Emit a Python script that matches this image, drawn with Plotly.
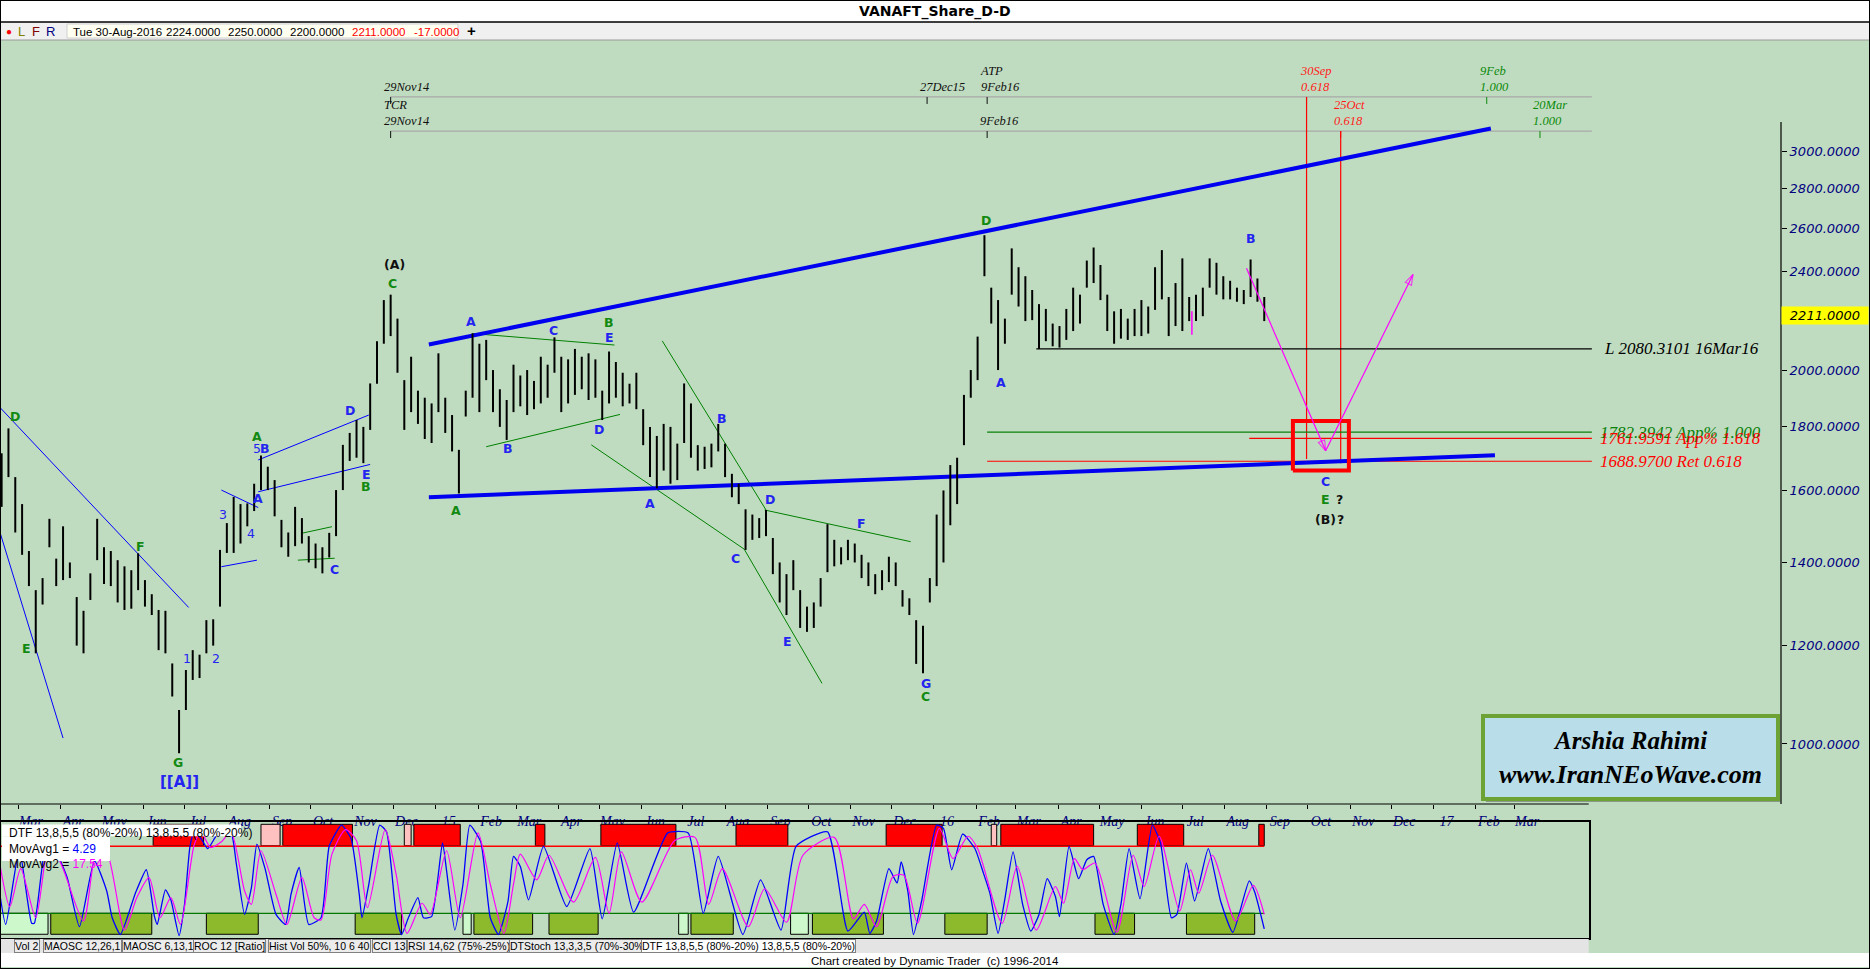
import math

import pandas as pd
import plotly.graph_objects as go

# ------------------------------------------------------------------ data
# VANAFT daily chart, read off as 5-day bars from 17 Feb 2014 to 30 Aug 2016
BAR_START = "2014-02-17"
bar_high = [
    1714, 1795, 1640, 1560, 1430, 1330, 1360, 1518, 1410, 1497,
    1400, 1313, 1280, 1372, 1518, 1440, 1430, 1406, 1390, 1380,
    1424, 1355, 1320, 1282, 1280, 1161, 1065, 1147, 1190, 1180,
    1258, 1260, 1433, 1506, 1581, 1560, 1562, 1620, 1707, 1672,
    1631, 1515, 1480, 1552, 1520, 1470, 1450, 1440, 1479, 1601,
    1741, 1780, 1823, 1800, 1951, 2110, 2277, 2300, 2200, 1963,
    2050, 1925, 1900, 1880, 2063, 1900, 1840, 1725, 1925, 2141,
    2100, 2115, 2000, 1930, 1892, 2020, 1980, 2000, 1960, 2050,
    2020, 2125, 2050, 2040, 2080, 2050, 2063, 2040, 1925, 2070,
    2030, 1990, 1950, 1990, 1860, 1800, 1770, 1810, 1800, 1745,
    1951, 1880, 1740, 1735, 1745, 1810, 1745, 1650, 1620, 1545,
    1530, 1520, 1543, 1465, 1400, 1370, 1406, 1330, 1290, 1300,
    1360, 1503, 1460, 1440, 1460, 1450, 1420, 1400, 1370, 1380,
    1415, 1400, 1330, 1310, 1258, 1245, 1360, 1530, 1600, 1677,
    1700, 1910, 2000, 2128, 2568, 2330, 2277, 2200, 2506, 2420,
    2380, 2320, 2260, 2240, 2180, 2170, 2240, 2330, 2300, 2450,
    2510, 2430, 2300, 2230, 2240, 2200, 2240, 2277, 2250, 2420,
    2498, 2290, 2350, 2460, 2290, 2300, 2330, 2460, 2440, 2380,
    2360, 2330, 2320, 2455, 2370, 2290,
]
bar_low = [
    1552, 1640, 1480, 1420, 1340, 1183, 1295, 1440, 1340, 1355,
    1360, 1200, 1183, 1306, 1406, 1345, 1340, 1300, 1282, 1285,
    1330, 1290, 1270, 1190, 1183, 1092, 983, 1065, 1126, 1130,
    1183, 1200, 1290, 1425, 1425, 1450, 1497, 1540, 1601, 1601,
    1525, 1440, 1415, 1443, 1450, 1400, 1385, 1372, 1413, 1470,
    1601, 1690, 1700, 1683, 1790, 1950, 2100, 2130, 1990, 1790,
    1850, 1810, 1760, 1747, 1850, 1780, 1720, 1591, 1835, 1900,
    1850, 1963, 1850, 1800, 1757, 1850, 1870, 1840, 1860, 1880,
    1900, 1990, 1850, 1880, 1910, 1930, 1892, 1900, 1823, 1880,
    1900, 1870, 1880, 1860, 1740, 1640, 1606, 1660, 1620, 1631,
    1747, 1700, 1660, 1665, 1670, 1720, 1640, 1580, 1560, 1433,
    1460, 1465, 1470, 1370, 1300, 1270, 1330, 1240, 1231, 1240,
    1290, 1375, 1390, 1395, 1406, 1400, 1360, 1340, 1320, 1330,
    1350, 1340, 1290, 1270, 1160, 1140, 1300, 1340, 1400, 1500,
    1560, 1740, 1900, 1963, 2380, 2180, 2000, 2100, 2300, 2250,
    2190, 2194, 2080, 2110, 2090, 2085, 2115, 2150, 2180, 2330,
    2350, 2277, 2150, 2100, 2120, 2115, 2130, 2130, 2140, 2236,
    2280, 2130, 2170, 2150, 2190, 2190, 2210, 2330, 2300, 2280,
    2280, 2270, 2260, 2290, 2270, 2190,
]
last_bar = ["Tue 30-Aug-2016", "2224.0000", "2250.0000", "2200.0000", "2211.0000", "-17.0000"]
LAST_CLOSE = 2211.0

PRICE_TICKS = [1000, 1200, 1400, 1600, 1800, 2000, 2400, 2600, 2800, 3000]

# trend lines: (dates, prices)
channel_lines = [
    (["2014-12-27", "2017-02-12"], [2097, 3130]),
    (["2014-12-27", "2017-02-15"], [1580, 1708]),
]
blue_lines = [
    (["2014-02-13", "2014-07-04"], [1880, 1288]),
    (["2014-02-13", "2014-04-03"], [1515, 1011]),
    (["2014-07-28", "2014-08-24"], [1601, 1550]),
    (["2014-07-28", "2014-08-23"], [1389, 1406]),
    (["2014-08-24", "2014-11-13"], [1693, 1840]),
    (["2014-08-24", "2014-11-14"], [1596, 1679]),
]
green_lines = [
    (["2014-09-25", "2014-10-17"], [1478, 1496]),
    (["2014-09-22", "2014-10-19"], [1406, 1411]),
    (["2015-01-28", "2015-05-12"], [2140, 2095]),
    (["2015-02-07", "2015-05-16"], [1735, 1842]),
    (["2015-06-16", "2015-08-31"], [2111, 1543]),
    (["2015-04-25", "2015-08-15", "2015-10-11"], [1741, 1435, 1119]),
    (["2015-08-30", "2015-12-15"], [1543, 1455]),
]

# price projections
PROJ_END = "2017-04-27"
fib_level = [1782.3942, 1761.9591, 1688.9700]
fib_from = ["2016-02-09", "2016-08-19", "2016-02-09"]
fib_text = ["1782.3942 App% 1.000", "1761.9591 App% 1.618", "1688.9700 Ret 0.618"]
support_level = 2080.3101
support_from = "2016-03-16"
support_text = "L 2080.3101 16Mar16"

target_dates = ["2016-09-20", "2016-10-31"]
target_prices = [1660, 1820]

path_dates = ["2016-08-17", "2016-10-14", "2016-12-17"]
path_prices = [2415, 1722, 2388]
marker_bar = (["2016-07-08", "2016-07-08"], [2135, 2230])

# time projections: two ruler rows (price level of each row)
time_rows = [3318, 3115]
TIME_FROM = "2014-11-29"
time_marks = [
    (0, "2014-11-29", "29Nov14", "k"),
    (0, "2015-12-27", "27Dec15", "k"),
    (0, "2016-02-09", "ATP<br>9Feb16", "k"),
    (0, "2016-09-30", "30Sep<br>0.618", "r"),
    (0, "2017-02-09", "9Feb<br>1.000", "g"),
    (1, "2014-11-29", "TCR<br>29Nov14", "k"),
    (1, "2016-02-09", "9Feb16", "k"),
    (1, "2016-10-25", "25Oct<br>0.618", "r"),
    (1, "2017-03-20", "20Mar<br>1.000", "g"),
]
time_drops = [("2016-09-30", 3318, 1696), ("2016-10-25", 3115, 1683)]

# Elliott wave labels: (text, date, price, colour key)
waves = [
    ("D", "2014-02-27", 1834, "g"), ("E", "2014-03-07", 1194, "g"),
    ("F", "2014-05-30", 1441, "g"), ("G", "2014-06-26", 967, "g"),
    ("1", "2014-07-03", 1171, "n"), ("2", "2014-07-24", 1172, "n"),
    ("3", "2014-07-29", 1529, "n"), ("4", "2014-08-19", 1476, "n"),
    ("5", "2014-08-23", 1728, "n"), ("B", "2014-08-29", 1730, "b"),
    ("A", "2014-08-23", 1768, "g"), ("A", "2014-08-24", 1575, "b"),
    ("C", "2014-10-19", 1383, "b"), ("D", "2014-10-30", 1857, "b"),
    ("E", "2014-11-11", 1649, "b"), ("B", "2014-11-11", 1613, "g"),
    ("(A)", "2014-12-02", 2430, "k"), ("C", "2014-11-30", 2349, "g"),
    ("A", "2015-01-27", 2187, "b"), ("A", "2015-01-16", 1541, "g"),
    ("B", "2015-02-23", 1730, "b"), ("C", "2015-03-28", 2154, "b"),
    ("D", "2015-05-01", 1790, "b"), ("B", "2015-05-08", 2184, "g"),
    ("E", "2015-05-08", 2125, "b"), ("A", "2015-06-07", 1562, "b"),
    ("B", "2015-07-30", 1829, "b"), ("C", "2015-08-09", 1411, "b"),
    ("D", "2015-09-03", 1572, "b"), ("E", "2015-09-16", 1209, "b"),
    ("F", "2015-11-09", 1505, "b"), ("G", "2015-12-26", 1118, "b"),
    ("C", "2015-12-26", 1092, "g"), ("D", "2016-02-08", 2641, "g"),
    ("A", "2016-02-19", 1955, "b"), ("B", "2016-08-20", 2553, "b"),
    ("C", "2016-10-14", 1626, "b"), ("E", "2016-10-14", 1572, "g"),
    ("?", "2016-10-24", 1572, "k"), ("(B)", "2016-10-14", 1515, "k"),
    ("?", "2016-10-25", 1515, "k"), ("[[A]]", "2014-06-27", 932, "B"),
]

# DTF oscillator (days after 1 Mar 2014, value 0-100)
OSC_BASE = "2014-03-01"
dtf_day = [
    -15, -9, 1, 10, 12, 21, 26, 36, 45, 56, 65, 69, 75, 86, 94, 100, 102, 108, 112, 118,
    122, 126, 129, 134, 139, 144, 149, 156, 160, 166, 171, 175, 181, 189, 196, 200, 206, 213, 222, 228,
    237, 244, 250, 252, 257, 265, 270, 277, 281, 286, 293, 297, 303, 311, 314, 320, 326, 331, 339, 346,
    352, 359, 363, 368, 374, 385, 402, 419, 428, 439, 451, 476, 491, 502, 513, 531, 544, 559, 570, 593,
    608, 620, 624, 629, 638, 644, 647, 652, 656, 662, 673, 678, 684, 692, 701, 707, 712, 718, 723, 729,
    736, 742, 748, 754, 760, 763, 770, 777, 783, 788, 795, 803, 808, 814, 822, 831, 837, 845, 849, 856,
    862, 872, 881, 890, 902, 906, 913,
]
dtf_val = [
    51, 10, 77, 11, 11, 85, 80, 52, 8, 67, 40, 16, 1, 38, 59, 17, 10, 41, 32, 0,
    28, 80, 93, 87, 78, 87, 96, 93, 64, 19, 43, 82, 60, 19, 10, 37, 61, 10, 16, 80,
    99, 87, 37, 16, 46, 99, 93, 19, 1, 16, 34, 16, 17, 83, 58, 5, 46, 99, 84, 16,
    1, 31, 71, 62, 32, 80, 26, 78, 15, 83, 21, 92, 92, 20, 71, 1, 50, 5, 80, 93,
    4, 21, 2, 13, 60, 47, 66, 39, 1, 31, 99, 96, 59, 91, 78, 57, 38, 2, 33, 75,
    28, 4, 19, 51, 35, 17, 80, 51, 68, 71, 28, 1, 28, 78, 33, 99, 83, 16, 19, 65,
    31, 78, 31, 3, 49, 39, 6,
]
ma_day = [
    -14, -6, 2, 13, 23, 33, 48, 58, 65, 78, 87, 96, 104, 112, 119, 129, 134, 141, 149, 156,
    166, 171, 178, 189, 197, 208, 217, 222, 230, 240, 248, 256, 269, 277, 285, 296, 302, 314, 324, 337,
    346, 356, 363, 368, 380, 389, 407, 423, 433, 442, 457, 481, 496, 506, 516, 535, 547, 563, 575, 598,
    612, 620, 629, 641, 649, 659, 675, 685, 696, 703, 721, 732, 746, 760, 766, 774, 780, 789, 805, 817,
    825, 836, 851, 859, 865, 875, 892, 905, 913,
]
ma_val = [
    69, 26, 60, 16, 84, 60, 13, 78, 75, 5, 34, 52, 16, 34, 10, 81, 93, 79, 84, 93,
    40, 28, 76, 37, 10, 52, 16, 14, 73, 95, 85, 25, 95, 55, 2, 29, 19, 76, 16, 92,
    46, 2, 46, 73, 50, 72, 30, 70, 20, 75, 30, 85, 88, 28, 60, 8, 42, 12, 72, 88,
    15, 28, 8, 53, 54, 11, 96, 69, 89, 78, 11, 62, 5, 44, 29, 69, 59, 65, 3, 72,
    44, 89, 22, 59, 38, 72, 13, 45, 19,
]
DTF_LEGEND = "DTF 13,8,5,5 (80%-20%) 13,8,5,5 (80%-20%)"
ma1_last, ma2_last = "4.29", "17.54"
OB_LEVEL, OS_LEVEL = 80, 20

red_zone_start = ["2014-06-08", "2014-09-11", "2014-12-16", "2015-03-15", "2015-05-02",
                  "2015-08-09", "2015-11-27", "2016-02-19", "2016-05-29", "2016-08-26"]
red_zone_end = ["2014-07-15", "2014-11-01", "2015-01-19", "2015-03-22", "2015-06-26",
                "2015-09-16", "2016-01-07", "2016-04-27", "2016-07-02", "2016-08-30"]
pink_zone_start = ["2014-08-26", "2014-12-09", "2016-02-12"]
pink_zone_end = ["2014-09-09", "2014-12-14", "2016-02-16"]
green_zone_start = ["2014-03-25", "2014-07-17", "2014-11-03", "2015-01-29", "2015-03-25",
                    "2015-07-07", "2015-10-04", "2016-01-09", "2016-04-28", "2016-07-04"]
green_zone_end = ["2014-06-07", "2014-08-24", "2014-12-07", "2015-03-13", "2015-04-30",
                  "2015-08-07", "2015-11-25", "2016-02-09", "2016-05-27", "2016-08-23"]
pale_zone_start = ["2014-02-16", "2015-01-21", "2015-06-28", "2015-09-18"]
pale_zone_end = ["2014-03-23", "2015-01-27", "2015-07-05", "2015-10-01"]
LAST_DATE = "2016-08-30"

tabs = ["Vol 2", "MAOSC 12,26,1", "MAOSC 6,13,1", "ROC 12 [Ratio]", "Hist Vol 50%, 10 6 40",
        "CCI 13", "RSI 14,62 (75%-25%)", "DTStoch 13,3,3,5 (70%-30%)", DTF_LEGEND]

# ------------------------------------------------------------------ style / layout
W, H = 1870, 969
BG = "#C0DCC0"
NAVY = "#000080"
SERIF = "Liberation Serif"
SANS = "DejaVu Sans"
UI = "Liberation Sans"
WAVE_COL = {"b": "#2424F0", "n": "#2424F0", "B": "#2424F0", "g": "#128A12", "k": "#101010"}
MARK_COL = {"k": "#101010", "r": "#FF1A1A", "g": "#0A8A0A"}
FIB_COL = ["#0A800A", "#FF0000", "#FF0000"]

ORIGIN = pd.Timestamp("2014-03-01")
PX0, PX_PER_DAY = 18.0, 1.365
PLOT_RIGHT, PANEL_RIGHT = 1781.0, 1588.7


def fx(px):
    return px / W


def fy(px):
    return 1 - px / H


def px_date(px):
    return ORIGIN + pd.Timedelta(days=(px - PX0) / PX_PER_DAY)


X_START, X_END, X2_END = px_date(0), px_date(PLOT_RIGHT), px_date(PANEL_RIGHT)
Y_LOW, Y_HIGH = 894.7, 3687.6
TICK_DROP = math.exp(-7 / 539.5)

fig = go.Figure()


def add_line(xs, ys, color, width, axes=("x", "y"), shape="linear"):
    fig.add_trace(go.Scatter(x=xs, y=ys, mode="lines", hoverinfo="skip",
                             line=dict(color=color, width=width, shape=shape),
                             xaxis=axes[0], yaxis=axes[1]))


# time rulers
for r in time_rows:
    add_line([TIME_FROM, PROJ_END], [r, r], "#A9A9A9", 1.3)
for row, d, _, c in time_marks:
    add_line([d, d], [time_rows[row], time_rows[row] * TICK_DROP], MARK_COL[c], 1)
for d, top, bottom in time_drops:
    add_line([d, d], [top, bottom], "#FF0000", 1.2)

# horizontal projections
for lvl, start, col in zip(fib_level, fib_from, FIB_COL):
    add_line([start, PROJ_END], [lvl, lvl], col, 1.2)
add_line([support_from, PROJ_END], [support_level, support_level], "black", 1.3)

# trend lines
for xs, ys in blue_lines:
    add_line(xs, ys, "#0000FF", 1)
for xs, ys in green_lines:
    add_line(xs, ys, "#008000", 1)
for xs, ys in channel_lines:
    add_line(xs, ys, "#0000F0", 4)

# price bars
bar_dates = pd.date_range(BAR_START, periods=len(bar_high), freq="5D")
seg_x, seg_y = [], []
for d, hi, lo in zip(bar_dates, bar_high, bar_low):
    seg_x += [d, d, None]
    seg_y += [lo, hi, None]
fig.add_trace(go.Scatter(x=seg_x, y=seg_y, mode="lines", hoverinfo="skip",
                         line=dict(color="black", width=2)))

# target zone and projected path
d0, d1 = target_dates
p0, p1 = target_prices
add_line([d0, d1, d1, d0, d0], [p0, p0, p1, p1, p0], "#FF0000", 4)
add_line(*marker_bar, "#FF00FF", 1.5)
for i in range(len(path_dates) - 1):
    fig.add_trace(go.Scatter(
        x=path_dates[i:i + 2], y=path_prices[i:i + 2], mode="lines+markers", hoverinfo="skip",
        line=dict(color="#FF00FF", width=1.2),
        marker=dict(symbol="arrow-open", size=[0, 11], angleref="previous",
                    color="#FF00FF", line=dict(color="#FF00FF", width=1.2))))

# oscillator panel
osc_base = pd.Timestamp(OSC_BASE)
fig.add_trace(go.Scatter(x=[osc_base + pd.Timedelta(days=d) for d in dtf_day], y=dtf_val,
                         mode="lines", hoverinfo="skip", xaxis="x2", yaxis="y2",
                         line=dict(color="#0000FF", width=1.3, shape="spline", smoothing=0.5)))
fig.add_trace(go.Scatter(x=[osc_base + pd.Timedelta(days=d) for d in ma_day], y=ma_val,
                         mode="lines", hoverinfo="skip", xaxis="x2", yaxis="y2",
                         line=dict(color="#FF00FF", width=1.2, shape="spline", smoothing=0.7)))

shapes = []


def zone(starts, ends, y0, y1, fill):
    for s, e in zip(starts, ends):
        shapes.append(dict(type="rect", xref="x2", yref="y2", x0=s, x1=e, y0=y0, y1=y1,
                           fillcolor=fill, line=dict(color="black", width=1), layer="below"))


zone(red_zone_start, red_zone_end, 80.5, 99.7, "#FF0000")
zone(pink_zone_start, pink_zone_end, 80.5, 99.7, "#FFC0C0")
zone(green_zone_start, green_zone_end, 1.2, 20, "#8DBA2C")
zone(pale_zone_start, pale_zone_end, 1.2, 20, "#CCF8CC")
shapes.append(dict(type="line", xref="x2", yref="y2", x0=X_START, x1=LAST_DATE, y0=OB_LEVEL,
                   y1=OB_LEVEL, line=dict(color="#FF0000", width=1.5), layer="below"))
shapes.append(dict(type="line", xref="x2", yref="y2", x0=X_START, x1=LAST_DATE, y0=OS_LEVEL,
                   y1=OS_LEVEL, line=dict(color="#007800", width=1.3), layer="below"))


def rect(x0, y0, x1, y1, fill, line_color=None, lw=0):
    shapes.append(dict(type="rect", xref="paper", yref="paper", x0=fx(x0), x1=fx(x1),
                       y0=fy(y1), y1=fy(y0), fillcolor=fill, layer="above",
                       line=dict(color=line_color or fill, width=lw)))


def hline(x0, x1, y, color, lw):
    shapes.append(dict(type="line", xref="paper", yref="paper", x0=fx(x0), x1=fx(x1),
                       y0=fy(y), y1=fy(y), line=dict(color=color, width=lw), layer="above"))


# window chrome
rect(0, 0, W, 22, "white")
rect(0, 22, W, 40, "#F0F0F0")
rect(67, 24, 458, 38, "#FFFFF2", "#D0D0D0", 1)
hline(0, W, 22, "black", 1.5)
hline(0, W, 40, "#9A9A9A", 1)
rect(0, 939, PANEL_RIGHT, 953, "#E4E4E4")
rect(0, 953, W, 967, "white")
hline(0, PANEL_RIGHT, 804, "black", 1.2)
shapes.append(dict(type="line", xref="paper", yref="paper", x0=fx(PLOT_RIGHT), x1=fx(PLOT_RIGHT),
                   y0=fy(804), y1=fy(122), line=dict(color="black", width=1.2), layer="above"))
# oscillator legend background
rect(2, 824.5, 241, 836.3, "white")
rect(2, 836.3, 110, 861, "white")
# signature box
rect(1486, 719, 1781, 802, "rgba(70,70,70,0.45)")
rect(1483, 716, 1778, 799, "#B9DEE9", "#6CA334", 4)
shapes.append(dict(type="rect", xref="paper", yref="paper", x0=0, x1=1, y0=0, y1=1,
                   line=dict(color="black", width=2), layer="above"))

ann = []


def note(text, x, y, xref="paper", yref="paper", size=12, color="black", family=UI, **kw):
    if xref == "paper":
        x = fx(x)
    if yref == "paper":
        y = fy(y)
    kw.setdefault("xanchor", "center")
    kw.setdefault("yanchor", "middle")
    ann.append(dict(text=text, x=x, y=y, xref=xref, yref=yref, showarrow=False,
                    font=dict(size=size, color=color, family=family), **kw))


# title + data bar
note("<b>VANAFT_Share_D-D</b>", 935, 11.5, size=14, family=SANS)
note("●", 9, 31.5, size=10, color="#FF0000")
for txt, x, col in [("L", 21, "#808000"), ("F", 36, "#800000"), ("R", 50, "#000080")]:
    note(txt, x, 31.5, size=13, color=col)
info_x = [70.5, 164, 226, 288, 349.6, 411.6]
for i, (txt, x) in enumerate(zip(last_bar, info_x)):
    note(txt, x, 31.5, size=11.5, color="#FF0000" if i >= 4 else "black", xanchor="left")
note("<b>+</b>", 472, 31, size=15)

# wave labels
for txt, d, p, c in waves:
    label = txt if c == "n" else f"<b>{txt}</b>"
    note(label, d, math.log10(p), xref="x", yref="y", size=15 if c == "B" else 12.5,
         color=WAVE_COL[c], family=SANS)

# time ruler labels
for row, d, txt, c in time_marks:
    note(f"<i>{txt}</i>", d, math.log10(time_rows[row]), xref="x", yref="y", size=12.5,
         color=MARK_COL[c], family=SERIF, xanchor="left", yanchor="bottom", xshift=-9,
         yshift=1, align="left")

# projection labels
for lvl, txt, col in zip(fib_level, fib_text, FIB_COL):
    note(f"<i>{txt}</i>", PROJ_END, math.log10(lvl), xref="x", yref="y", size=17,
         color=col, family=SERIF, xanchor="left", xshift=6)
note(f"<i>{support_text}</i>", PROJ_END, math.log10(support_level), xref="x", yref="y",
     size=17, color="black", family=SERIF, xanchor="left", xshift=10)

# last price marker on the axis
note(f"<i>{LAST_CLOSE:.4f}</i>", PLOT_RIGHT, math.log10(LAST_CLOSE), yref="y", size=13,
     family=SANS, xanchor="left", bgcolor="#FFFF00", width=84, borderpad=1)

# signature
note("<b><i>Arshia Rahimi</i></b>", 1630, 740, size=25, family=SERIF)
note("<b><i>www.IranNEoWave.com</i></b>", 1630, 774, size=26, family=SERIF)

# oscillator legend (one block, three lines)
note(f"{DTF_LEGEND}<br>MovAvg1 = <span style='color:#0000FF'>{ma1_last}</span>"
     f"<br>MovAvg2 = <span style='color:#FF00FF'>{ma2_last}</span>",
     8, 825, size=12, xanchor="left", yanchor="top", align="left", borderpad=0)

# indicator tabs and credit line
tab_x = [26.5, 82.5, 158, 229.5, 319, 389, 459, 578.5, 748]
for i, (txt, x) in enumerate(zip(tabs, tab_x)):
    note(txt, x, 946, size=10.5, bgcolor="white" if i == len(tabs) - 1 else "#ECECEC",
         bordercolor="#808080", borderwidth=1, borderpad=0)
note("Chart created by Dynamic Trader  (c) 1996-2014", 935, 960.5, size=11.5)

# month labels on the time axis
month_ticks = pd.date_range("2014-03-01", "2017-03-01", freq="MS")
month_text = [str(m.year % 100) if m.month == 1 else m.strftime("%b") for m in month_ticks]

fig.update_layout(
    width=W, height=H, template="none", showlegend=False,
    margin=dict(l=0, r=0, t=0, b=0, pad=0),
    paper_bgcolor=BG, plot_bgcolor=BG,
    font=dict(family=UI, size=12, color="black"),
    xaxis=dict(domain=[0, fx(PLOT_RIGHT)], range=[X_START, X_END], type="date", anchor="y",
               tickvals=month_ticks, ticktext=month_text, ticks="outside", ticklen=4,
               tickcolor="black", ticklabelshift=13,
               tickfont=dict(family=SERIF, size=14, color=NAVY, style="italic"),
               showgrid=False, zeroline=False, showline=False, automargin=False),
    yaxis=dict(domain=[fy(804), fy(40)], type="log",
               range=[math.log10(Y_LOW), math.log10(Y_HIGH)], side="right", anchor="x",
               tickvals=PRICE_TICKS, ticktext=[f"{v:.4f}" for v in PRICE_TICKS],
               ticks="outside", ticklen=5, tickcolor="black",
               tickfont=dict(family=SANS, size=13, color=NAVY, style="italic"),
               showgrid=False, zeroline=False, showline=False, automargin=False),
    xaxis2=dict(domain=[0, fx(PANEL_RIGHT)], range=[X_START, X2_END], type="date",
                anchor="y2", showticklabels=False, ticks="", showgrid=False, zeroline=False,
                showline=True, mirror=True, linecolor="black", linewidth=1.5, automargin=False),
    yaxis2=dict(domain=[fy(938.3), fy(822.3)], range=[-2.4, 101.5], anchor="x2",
                showticklabels=False, ticks="", showgrid=False, zeroline=False,
                showline=True, mirror=True, linecolor="black", linewidth=1.5, automargin=False),
    shapes=shapes,
    annotations=ann,
)

# the page is photographed edge to edge: no body margin, no toolbar
fig.write_html("out.html", config={"displayModeBar": False},
               post_script="document.body.style.margin='0';document.body.style.overflow='hidden';")
